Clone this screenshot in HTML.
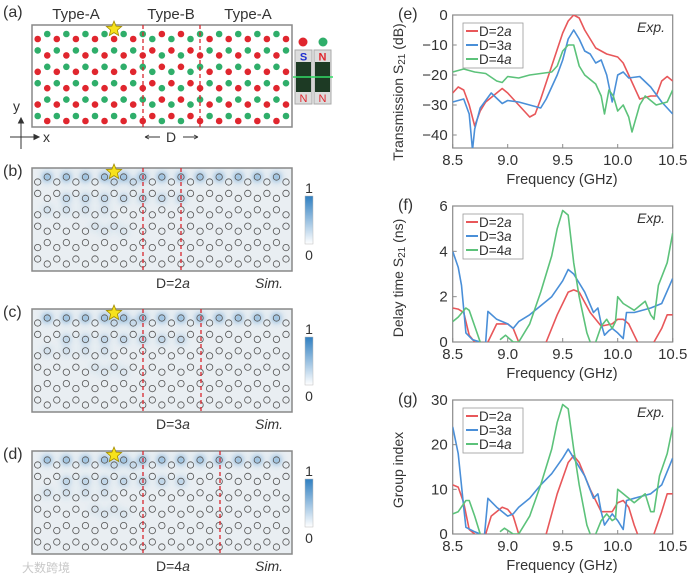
<!DOCTYPE html>
<html><head><meta charset="utf-8">
<style>
html,body{margin:0;padding:0;background:#fff;}
svg{display:block;font-family:"Liberation Sans","Noto Sans CJK SC",sans-serif;}
</style></head>
<body>
<svg id="fig" width="693" height="580" viewBox="0 0 693 580" xmlns="http://www.w3.org/2000/svg">
<defs>
  <filter id="blur" x="-50%" y="-50%" width="200%" height="200%"><feGaussianBlur stdDeviation="3.2"/></filter>
  <linearGradient id="cbar" x1="0" y1="1" x2="0" y2="0">
    <stop offset="0" stop-color="#ffffff"/><stop offset="1" stop-color="#2f7fc1"/>
  </linearGradient>
</defs>
<g id="left"></g>
<g id="right"></g>
<text x="22" y="572" font-size="12" fill="#c8c8c8">大数跨境</text>
</svg>
<script>
// ---------- chart data ----------
const freqRange = [8.5, 10.5];
const xTicks = [8.5, 9.0, 9.5, 10.0, 10.5];
const xTickLabels = ["8.5","9.0","9.5","10.0","10.5"];
const legendLabels = ["D=2a","D=3a","D=4a"];
const seriesColors = ["#e8575a","#4a8fd8","#5cc27a"];

// (e) transmission
const eTicks = [0,-10,-20,-30,-40];
const eRedF = [8.5,8.55,8.6,8.65,8.7,8.75,8.8,8.9,8.95,9.0,9.1,9.2,9.25,9.3,9.4,9.5,9.55,9.6,9.65,9.7,9.8,9.9,10.0,10.05,10.1,10.2,10.3,10.35,10.4,10.45,10.5];
const eRedV = [-26,-24,-25,-30,-37,-32,-29,-26,-24.5,-26,-30,-34,-33,-28,-17,-6,-2,0,-1,-5,-11,-13,-14,-16,-20,-28,-27,-27,-22,-20.5,-22];
const eBlueF = [8.5,8.6,8.65,8.68,8.7,8.75,8.85,8.95,9.0,9.1,9.2,9.3,9.35,9.45,9.5,9.55,9.6,9.65,9.7,9.75,9.8,9.85,9.9,9.95,10.0,10.05,10.1,10.2,10.3,10.4,10.5];
const eBlueV = [-29,-28,-33,-45,-38,-31,-26,-29.5,-28.5,-29,-30,-31,-28,-20,-15,-8,-5,-8,-12,-13,-16,-15,-20,-29,-20,-19,-21,-20.5,-24,-29,-33];
const eGreenF = [8.5,8.6,8.7,8.8,8.9,8.95,9.0,9.1,9.2,9.3,9.4,9.45,9.5,9.55,9.6,9.65,9.7,9.8,9.85,9.88,9.92,9.96,10.0,10.05,10.1,10.13,10.2,10.25,10.35,10.45,10.5];
const eGreenV = [-19,-18,-19,-19.5,-22,-22.5,-20.5,-21,-20,-19.5,-19,-17,-12,-10,-10,-17,-20,-23,-27,-33,-25,-27,-32,-30,-34,-39,-30,-27,-30,-29,-25];

// (f) delay time
const fTicks = [0,2,4,6];
const fRedF = [8.5,8.55,8.6,8.65,8.7,null,8.82,8.9,9.0,9.05,9.1,null,9.35,9.45,9.55,9.6,9.65,9.75,9.85,9.95,10.0,10.05,10.1,10.15,10.18,null,10.33,10.4,10.45,10.5];
const fRedV = [1.5,1.45,1.3,0.3,0,null,0,0.8,0.8,0.6,0,null,0,1.2,2.2,2.3,2.2,1.3,0.7,0.8,1.0,1.0,0.8,0.3,0,null,0,0.6,1.2,1.2];
const fBlueF = [8.5,8.55,8.58,8.62,8.68,8.75,null,8.8,8.82,8.9,9.0,9.05,9.1,9.2,9.3,9.4,9.5,9.55,9.6,9.7,9.78,9.82,9.85,9.88,9.92,9.95,10.0,10.05,10.08,10.15,10.3,10.4,10.5];
const fBlueV = [4.0,3.3,2.5,0.4,0.1,0,null,0,1.35,1.0,0.8,0.6,0.9,1.2,1.6,2.0,2.7,3.2,3.0,2.2,1.3,1.5,0.8,0.3,0.5,0.6,0.4,0.15,1.3,1.3,1.5,1.7,2.8];
const fGreenF = [8.5,8.55,8.62,8.65,8.7,8.75,null,8.93,8.98,9.05,9.1,9.2,9.3,9.4,9.45,9.5,9.55,9.6,9.65,9.72,9.75,null,9.8,9.85,9.9,9.95,9.98,10.0,10.05,10.15,10.2,10.25,10.3,10.33,10.37,10.45,10.5];
const fGreenV = [0.9,1.1,1.5,1.4,0.7,0,null,0.1,0.3,0,0,0.8,2.2,3.8,5.0,5.8,5.6,3.5,2.0,0.4,0,null,0,0.7,1.0,0.6,0.9,2.0,1.7,1.4,1.6,1.8,1.2,1.0,2.5,3.5,4.8];

// (g) group index
const gTicks = [0,10,20,30];
const gRedF = [8.5,8.55,8.6,8.65,8.7,null,8.8,8.85,8.95,9.0,9.05,9.1,null,9.35,9.45,9.55,9.6,9.65,9.75,9.85,9.95,10.0,10.05,10.1,10.15,10.18,null,10.33,10.4,10.45,10.5];
const gRedV = [11,10.5,7,1,0,null,0,4,6,5.5,4,0,null,0,9,16,17.5,16,10,5,5,7,7.5,6,2,0,null,0,5,9,9];
const gBlueF = [8.5,8.55,8.6,8.62,8.7,8.75,null,8.79,8.82,8.9,9.0,9.05,9.1,9.2,9.3,9.4,9.5,9.55,9.6,9.7,9.78,9.82,9.85,9.88,9.95,10.0,10.05,10.08,10.15,10.3,10.4,10.5];
const gBlueV = [24,18,6,1.5,0.5,0,null,0,8,6,4,4.5,6,8,11,13.5,17,19,17,13,8,9,5,2,4.5,3,1,7.5,8,9,11,17];
const gGreenF = [8.5,8.55,8.62,8.65,8.7,8.75,null,8.93,8.97,9.05,9.1,9.2,9.3,9.4,9.45,9.5,9.55,9.6,9.65,9.72,9.75,null,9.8,9.85,9.9,9.95,9.98,10.0,10.05,10.15,10.25,10.3,10.33,10.38,10.45,10.5];
const gGreenV = [4.5,5,7.5,7.5,4,0,null,0.5,1.3,0,0,4,11,19,25,29,28,19,11,2,0,null,0,3,4.5,3,3.5,10,9,7,9,5,5,13,18,24];

// ---------- helpers ----------
const NS = "http://www.w3.org/2000/svg";
function mk(tag, attrs, parent, text){
  const e = document.createElementNS(NS, tag);
  for (const k in attrs) e.setAttribute(k, attrs[k]);
  if (text !== undefined) e.textContent = text;
  parent.appendChild(e);
  return e;
}
const right = document.getElementById('right');
const left = document.getElementById('left');
const X0 = 452.7, X1 = 672.7;
function xs(f){ return X0 + (f - freqRange[0]) / (freqRange[1]-freqRange[0]) * (X1 - X0); }

function drawPanel(cfg){
  const g = mk('g', {}, right);
  
  
  const ys = v => cfg.yTop + (cfg.vTop - v) / (cfg.vTop - cfg.vBot) * (cfg.yBot - cfg.yTop);
  const fr = mk('rect', {x:X0, y:cfg.yTop, width:X1-X0, height:cfg.yBot-cfg.yTop, fill:'none', stroke:'#8a8a8a', 'stroke-width':1.2}, g);
  
  
  const cp = mk('clipPath', {id:'clip-'+cfg.name}, g);
  mk('rect', {x:X0, y:cfg.yTop, width:X1-X0, height:cfg.yBot-cfg.yTop}, cp);
  cfg.series.forEach((s, i) => {
    let d = '', pen = false;
    for (let k = 0; k < s.f.length; k++){
      if (s.f[k] === null || s.v[k] === null){ pen = false; continue; }
      d += (pen ? 'L' : 'M') + xs(s.f[k]).toFixed(1) + ',' + ys(s.v[k]).toFixed(1);
      pen = true;
    }
    const p = mk('path', {d:d, fill:'none', stroke:seriesColors[i], 'stroke-width':1.6, 'stroke-linejoin':'round', 'clip-path':'url(#clip-'+cfg.name+')'}, g);
    
    
  });
  cfg.ticks.forEach(t => {
    const y = ys(t);
    mk('line', {x1:X0, x2:X0+4, y1:y, y2:y, stroke:'#8a8a8a'}, g);
    const tl = mk('text', {x:X0-5, y:y+5, 'font-size':15, 'text-anchor':'end', fill:'#333'}, g, t === 0 ? '0' : String(t).replace('-','\u2212'));
    
    
  });
  xTicks.forEach((t, i) => {
    const x = xs(t);
    mk('line', {x1:x, x2:x, y1:cfg.yBot, y2:cfg.yBot-4, stroke:'#8a8a8a'}, g);
    const tl = mk('text', {x:x, y:cfg.yBot+17, 'font-size':15, 'text-anchor':'middle', fill:'#333'}, g, xTickLabels[i]);
    
    
  });
  const xt = mk('text', {x:562, y:cfg.yBot+36, 'font-size':14.5, 'text-anchor':'middle', fill:'#333'}, g, 'Frequency (GHz)');
  
  
  const yt = mk('text', {x:0, y:0, 'font-size':14, 'text-anchor':'middle', fill:'#333', transform:'translate(403,'+cfg.titleY+') rotate(-90)'}, g);
  
  
  yt.innerHTML = cfg.yTitle;
  const pl = mk('text', {x:398, y:cfg.yTop+4, 'font-size':16, fill:'#333'}, g, cfg.label);
  
  
  const ex = mk('text', {x:665, y:cfg.yTop+17, 'font-size':14, 'font-style':'italic', 'text-anchor':'end', fill:'#333'}, g, 'Exp.');
  
  
  const lg = mk('g', {}, g);
  
  
  const ly = cfg.yTop + 8;
  mk('rect', {x:463, y:ly, width:60, height:45, fill:'#fff', stroke:'#999', 'stroke-width':0.8}, lg);
  legendLabels.forEach((lab, i) => {
    const yy = ly + 8 + i*14;
    const le = mk('g', {}, lg);
    
    
    mk('line', {x1:466, x2:478, y1:yy, y2:yy, stroke:seriesColors[i], 'stroke-width':2}, le);
    const t = mk('text', {x:479, y:yy+5, 'font-size':13.5, fill:'#333'}, le);
    t.innerHTML = 'D=' + lab.slice(2,3) + '<tspan font-style="italic">a</tspan>';
  });
}

drawPanel({name:'panel-e-transmission', label:'(e)', yTop:15, yBot:148, vTop:0, vBot:-44.33, ticks:eTicks, titleY:92,
  yTitle:'Transmission S<tspan font-size="10" dy="2">21</tspan><tspan dy="-2"> (dB)</tspan>',
  series:[{f:eRedF,v:eRedV},{f:eBlueF,v:eBlueV},{f:eGreenF,v:eGreenV}]});
drawPanel({name:'panel-f-delay', label:'(f)', yTop:206, yBot:342, vTop:6, vBot:0, ticks:fTicks, titleY:278,
  yTitle:'Delay time S<tspan font-size="10" dy="2">21</tspan><tspan dy="-2"> (ns)</tspan>',
  series:[{f:fRedF,v:fRedV},{f:fBlueF,v:fBlueV},{f:fGreenF,v:fGreenV}]});
drawPanel({name:'panel-g-group-index', label:'(g)', yTop:400, yBot:534, vTop:30, vBot:0, ticks:gTicks, titleY:470,
  yTitle:'Group index',
  series:[{f:gRedF,v:gRedV},{f:gBlueF,v:gBlueV},{f:gGreenF,v:gGreenV}]});

// ---------- left lattice panels ----------
const FX0 = 32, FX1 = 292, NCOL = 27;
function colX(i){ return 37.7 + i*9.55; }
function rowY(top, r, i){ const high = ((i + r) % 2 === 1); return top + 9 + r*16.4 + (high ? 0 : 5); }
function star(g, cx, cy){
  const pts=[];
  for(let k=0;k<10;k++){ const a=-Math.PI/2+k*Math.PI/5; const rr=k%2?3.6:8; pts.push((cx+rr*Math.cos(a)).toFixed(1)+','+(cy+rr*Math.sin(a)).toFixed(1)); }
  const s = mk('polygon', {points:pts.join(' '), fill:'#f7e21c', stroke:'#a08a00', 'stroke-width':0.8}, g);
  
  
}
function panelA(){
  const g = mk('g', {}, left);
  
  
  const top = 25;
  mk('rect', {x:FX0, y:top, width:FX1-FX0, height:102, fill:'#fff', stroke:'#888', 'stroke-width':1.5}, g);
  for (let r=0;r<6;r++) for (let i=0;i<NCOL;i++){
    const x = colX(i), high = ((i + r) % 2 === 1);
    const inB = x > 143 && x < 200;
    const green = inB ? !high : high;
    mk('circle', {cx:x, cy:rowY(top, r, i), r:3.3, fill: green ? '#2fae6a' : '#e0262e'}, g);
  }
  [143,200].forEach(x => mk('line', {x1:x, x2:x, y1:top, y2:top+102, stroke:'#d8262e', 'stroke-width':1.3, 'stroke-dasharray':'4,3'}, g));
  star(g, 114, top+4);
  const lab = [['Type-A',76],['Type-B',171],['Type-A',248]];
  lab.forEach(l => { const t = mk('text', {x:l[1], y:19, 'font-size':15, 'text-anchor':'middle', fill:'#333'}, g, l[0]);   });
  const pl = mk('text', {x:3, y:17, 'font-size':16, fill:'#333'}, g, '(a)');
   
  const dl = mk('text', {x:171, y:142, 'font-size':14, 'text-anchor':'middle', fill:'#333'}, g, 'D');
   
  mk('path', {d:'M145,137 L160,137 M145,137 l4,-2 M145,137 l4,2 M183,137 L198,137 M198,137 l-4,-2 M198,137 l-4,2', stroke:'#333', 'stroke-width':0.9, fill:'none'}, g);
  const ax = mk('g', {}, g);
   
  mk('path', {d:'M21,149 L21,118 M21,118 l-2.5,5 l5,0 z M10,137 L39,137 M39,137 l-5,-2.5 l0,5 z', stroke:'#333', 'stroke-width':1, fill:'#333'}, ax);
  mk('text', {x:13, y:111, 'font-size':14, fill:'#333'}, ax, 'y');
  mk('text', {x:43, y:142, 'font-size':14, fill:'#333'}, ax, 'x');
  const mg = mk('g', {}, g);
   
  mk('circle', {cx:303, cy:42, r:4.5, fill:'#e0262e'}, mg);
  mk('circle', {cx:323, cy:42, r:4.5, fill:'#2fae6a'}, mg);
  [[295,'S','#2030d0'],[314,'N','#e0262e']].forEach(m => {
    mk('rect', {x:m[0], y:50, width:17, height:54, fill:'#ddd', stroke:'#aaa'}, mg);
    mk('rect', {x:m[0]+1, y:62, width:15, height:30, fill:'#1d3a24'}, mg);
    mk('text', {x:m[0]+8.5, y:60.5, 'font-size':11, 'font-weight':'bold', 'text-anchor':'middle', fill:m[2]}, mg, m[1]);
    mk('text', {x:m[0]+8.5, y:102, 'font-size':11, 'text-anchor':'middle', fill:'#e0262e'}, mg, 'N');
    mk('line', {x1:m[0]-2, x2:m[0]+19, y1:77, y2:77, stroke:'#33dd66', 'stroke-width':1.5}, mg);
  });
}
panelA();

function fieldPanel(name, label, top, dash2, dlabel){
  const g = mk('g', {}, left);
  
  
  mk('rect', {x:FX0, y:top, width:FX1-FX0, height:103, fill:'#e9eef2', stroke:'#888', 'stroke-width':1.5}, g);
  const cp = mk('clipPath', {id:'clip-'+name}, g);
  mk('rect', {x:FX0, y:top, width:FX1-FX0, height:103}, cp);
  const blobs = mk('g', {filter:'url(#blur)', 'clip-path':'url(#clip-'+name+')'}, g);
  for (let r=0;r<6;r++) for (let i=0;i<NCOL;i++){
    const x = colX(i), high = ((i + r) % 2 === 1);
    let a = 0;
    if (r===0 && high) a = 0.7;
    if (r===0 && !high && i>7 && i<12) a = 0.3;
    if (r===1 && x < 200 && x > 50 && !high) a = 0.4;
    if (r===2 && x > 40 && x < 120 && high) a = 0.22;
    if (r===3 && x > 90 && x < 125) a = 0.15;
    if (a>0) mk('circle', {cx:x, cy:rowY(top, r, i), r:4.5, fill:'#3f8ccc', opacity:a}, blobs);
  }
  for (let r=0;r<6;r++) for (let i=0;i<NCOL;i++){
    mk('circle', {cx:colX(i), cy:rowY(top, r, i), r:3.2, fill:'none', stroke:'#555', 'stroke-width':0.8}, g);
  }
  [143, dash2].forEach(x => {
    const l = mk('line', {x1:x, x2:x, y1:top, y2:top+103, stroke:'#d8262e', 'stroke-width':1.3, 'stroke-dasharray':'4,3'}, g);
     
  });
  star(g, 114, top+4);
  const pl = mk('text', {x:3, y:top+8, 'font-size':16, fill:'#333'}, g, label);
   
  const dt = mk('text', {x:156, y:top+120, 'font-size':14, fill:'#333'}, g);
   
  dt.innerHTML = 'D=' + dlabel + '<tspan font-style="italic">a</tspan>';
  const sm = mk('text', {x:283, y:top+120, 'font-size':14, 'font-style':'italic', 'text-anchor':'end', fill:'#333'}, g, 'Sim.');
   
  const cb = mk('g', {}, g);
   
  mk('rect', {x:305, y:top+28, width:8, height:48, fill:'url(#cbar)', stroke:'#bbb', 'stroke-width':0.5}, cb);
  mk('text', {x:309, y:top+25, 'font-size':14, 'text-anchor':'middle', fill:'#333'}, cb, '1');
  mk('text', {x:309, y:top+92, 'font-size':14, 'text-anchor':'middle', fill:'#333'}, cb, '0');
}
fieldPanel('panel-b-field', '(b)', 168, 181, '2');
fieldPanel('panel-c-field', '(c)', 309, 201, '3');
fieldPanel('panel-d-field', '(d)', 451, 220, '4');
</script>
</body></html>
